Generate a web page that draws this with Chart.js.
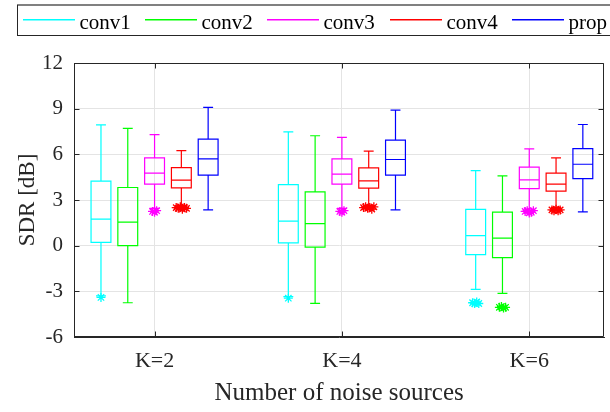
<!DOCTYPE html>
<html>
<head>
<meta charset="utf-8">
<script src="https://cdn.jsdelivr.net/npm/chart.js@4/dist/chart.umd.min.js"></script>
<style>
	html, body { margin: 0; padding: 0; background: #fff; }
</style>
</head>
<body>
<canvas id="chart" width="610" height="412"></canvas>
<script>
const GROUPS = ['K=2', 'K=4', 'K=6'];
const METHODS = ['conv1', 'conv2', 'conv3', 'conv4', 'prop'];
const COLORS = ['#00ffff', '#00ff00', '#ff00ff', '#ff0000', '#0000ff'];
const Y_TICKS = [-6, -3, 0, 3, 6, 9, 12];

// [lower whisker, q1, median, q3, upper whisker] for K=2, K=4, K=6
const CONV1_STATS = [[-3.3, 0.22, 1.74, 4.24, 7.94], [-3.35, 0.18, 1.61, 4.01, 7.48], [-2.87, -0.59, 0.66, 2.39, 4.93]];
const CONV2_STATS = [[-3.75, 0.0, 1.54, 3.82, 7.7], [-3.79, -0.09, 1.45, 3.53, 7.22], [-3.13, -0.79, 0.49, 2.2, 4.59]];
const CONV3_STATS = [[2.45, 4.04, 4.76, 5.77, 7.3], [2.45, 4.04, 4.7, 5.7, 7.11], [2.4, 3.75, 4.32, 5.16, 6.36]];
const CONV4_STATS = [[2.65, 3.8, 4.3, 5.13, 6.25], [2.65, 3.78, 4.26, 5.11, 6.21], [2.5, 3.58, 4.04, 4.76, 5.77]];
const PROP_STATS = [[2.35, 4.63, 5.7, 7.0, 9.08], [2.35, 4.63, 5.66, 6.93, 8.91], [2.22, 4.41, 5.35, 6.38, 7.96]];

// outliers (drawn as stars)
const CONV1_OUT = [[-3.4], [-3.45], [-3.75, -3.8, -3.7, -3.8]];
const CONV2_OUT = [[], [], [-4.05, -4.0, -4.1, -4.05]];
const CONV3_OUT = [[2.25, 2.2, 2.3], [2.25, 2.2, 2.3], [2.25, 2.3, 2.15, 2.2, 2.3]];
const CONV4_OUT = [[2.5, 2.45, 2.55, 2.4, 2.5, 2.45], [2.5, 2.55, 2.45, 2.5, 2.4, 2.55], [2.35, 2.3, 2.4, 2.3, 2.35]];
const PROP_OUT = [[], [], []];

const STATS = [CONV1_STATS, CONV2_STATS, CONV3_STATS, CONV4_STATS, PROP_STATS];
const OUTLIERS = [CONV1_OUT, CONV2_OUT, CONV3_OUT, CONV4_OUT, PROP_OUT];

const FONT = '"Liberation Serif", "Times New Roman", serif';
const AXIS_COLOR = '#262626';
const GRID_COLOR = '#e4e4e4';
const BOX_STEP = 0.143;
const BOX_WIDTH = 0.106;
const CAP_WIDTH = 0.053;
const JITTER = 0.011;

function boxX(groupIndex, methodIndex) {
	return groupIndex + 1 + (methodIndex - (METHODS.length - 1) / 2) * BOX_STEP;
}

const datasets = METHODS.map((name, i) => ({
	label: name,
	data: OUTLIERS[i].flatMap((vals, g) =>
		vals.map((v, k) => ({ x: boxX(g, i) + (k - (vals.length - 1) / 2) * JITTER, y: v }))
	),
	borderColor: COLORS[i],
	backgroundColor: COLORS[i],
	pointStyle: 'star',
	pointRadius: 4.5,
	pointBorderWidth: 1.3,
}));

const boxPlugin = {
	id: 'boxes',
	beforeDatasetsDraw(chart) {
		const { ctx, scales: { x, y } } = chart;
		const unit = x.getPixelForValue(1) - x.getPixelForValue(0);
		ctx.save();
		ctx.lineWidth = 1.2;
		STATS.forEach((stats, i) => {
			ctx.strokeStyle = COLORS[i];
			stats.forEach(([lo, q1, med, q3, hi], g) => {
				const cx = x.getPixelForValue(boxX(g, i));
				const hw = (BOX_WIDTH * unit) / 2;
				const cw = (CAP_WIDTH * unit) / 2;
				const yLo = y.getPixelForValue(lo);
				const yQ1 = y.getPixelForValue(q1);
				const yMed = y.getPixelForValue(med);
				const yQ3 = y.getPixelForValue(q3);
				const yHi = y.getPixelForValue(hi);
				ctx.beginPath();
				ctx.rect(cx - hw, yQ3, hw * 2, yQ1 - yQ3);
				ctx.moveTo(cx - hw, yMed);
				ctx.lineTo(cx + hw, yMed);
				ctx.moveTo(cx, yQ3);
				ctx.lineTo(cx, yHi);
				ctx.moveTo(cx - cw, yHi);
				ctx.lineTo(cx + cw, yHi);
				ctx.moveTo(cx, yQ1);
				ctx.lineTo(cx, yLo);
				ctx.moveTo(cx - cw, yLo);
				ctx.lineTo(cx + cw, yLo);
				ctx.stroke();
			});
		});
		ctx.restore();
	},
};

// axes box with inward ticks, plus the legend on top
const framePlugin = {
	id: 'frame',
	afterDraw(chart) {
		const { ctx, chartArea: a, scales: { x, y } } = chart;
		const L = Math.round(a.left) + 0.5;
		const R = Math.round(a.right) - 0.5;
		const T = Math.round(a.top) + 0.5;
		const B = Math.round(a.bottom) - 0.5;
		ctx.save();
		ctx.strokeStyle = AXIS_COLOR;
		ctx.lineWidth = 1;
		ctx.beginPath();
		ctx.rect(L, T, R - L, B - T);
		Y_TICKS.forEach(v => {
			const py = Math.round(y.getPixelForValue(v)) + 0.5;
			ctx.moveTo(L, py);
			ctx.lineTo(L + 5, py);
			ctx.moveTo(R, py);
			ctx.lineTo(R - 5, py);
		});
		GROUPS.forEach((_, g) => {
			const px = Math.round(x.getPixelForValue(g + 1)) + 0.5;
			ctx.moveTo(px, B);
			ctx.lineTo(px, B - 5);
			ctx.moveTo(px, T);
			ctx.lineTo(px, T + 5);
		});
		ctx.stroke();

		// legend
		ctx.fillStyle = '#fff';
		ctx.fillRect(17.5, 4.5, 600, 31);
		ctx.fillStyle = '#808080';
		ctx.fillRect(17, 4, 593, 2);
		ctx.fillStyle = AXIS_COLOR;
		ctx.fillRect(17, 5, 1, 31);
		ctx.fillRect(17, 35, 593, 1);
		METHODS.forEach((name, i) => {
			const x0 = Math.round(22.7 + i * 122.3);
			ctx.fillStyle = COLORS[i];
			ctx.fillRect(x0, 19, 52, 1.5);
			ctx.fillStyle = '#000';
			ctx.font = '21px ' + FONT;
			ctx.textBaseline = 'alphabetic';
			ctx.textAlign = 'left';
			ctx.fillText(name, x0 + 56.5, 28.5);
		});
		ctx.restore();
	},
};

const chart = new Chart(document.getElementById('chart'), {
	type: 'scatter',
	data: { datasets },
	options: {
		responsive: false,
		animation: false,
		devicePixelRatio: 1,
		layout: { padding: { top: 63, right: 2, left: 0, bottom: 0 } },
		plugins: {
			legend: { display: false },
			tooltip: { enabled: false },
		},
		scales: {
			x: {
				type: 'linear',
				min: 0.57,
				max: 3.4,
				afterBuildTicks: scale => {
					scale.ticks = GROUPS.map((_, g) => ({ value: g + 1 }));
				},
				afterFit: scale => {
					scale.height = 75;
				},
				ticks: {
					callback: v => GROUPS[v - 1],
					font: { family: FONT, size: 22 },
					color: AXIS_COLOR,
					padding: 11,
					maxRotation: 0,
				},
				grid: { color: GRID_COLOR, drawTicks: false },
				border: { color: AXIS_COLOR },
				title: {
					display: true,
					text: 'Number of noise sources',
					font: { family: FONT, size: 25 },
					color: AXIS_COLOR,
					padding: { top: 0, bottom: 4 },
				},
			},
			y: {
				min: -6,
				max: 12,
				afterBuildTicks: scale => {
					scale.ticks = Y_TICKS.map(v => ({ value: v }));
				},
				afterFit: scale => {
					scale.width = 74;
				},
				ticks: {
					font: { family: FONT, size: 21 },
					color: AXIS_COLOR,
					padding: 11,
				},
				grid: { color: GRID_COLOR, drawTicks: false },
				border: { color: AXIS_COLOR },
				title: {
					display: true,
					text: 'SDR [dB]',
					font: { family: FONT, size: 23 },
					color: AXIS_COLOR,
					padding: { top: 14, bottom: 0 },
				},
			},
		},
	},
	plugins: [boxPlugin, framePlugin],
});
</script>
</body>
</html>
